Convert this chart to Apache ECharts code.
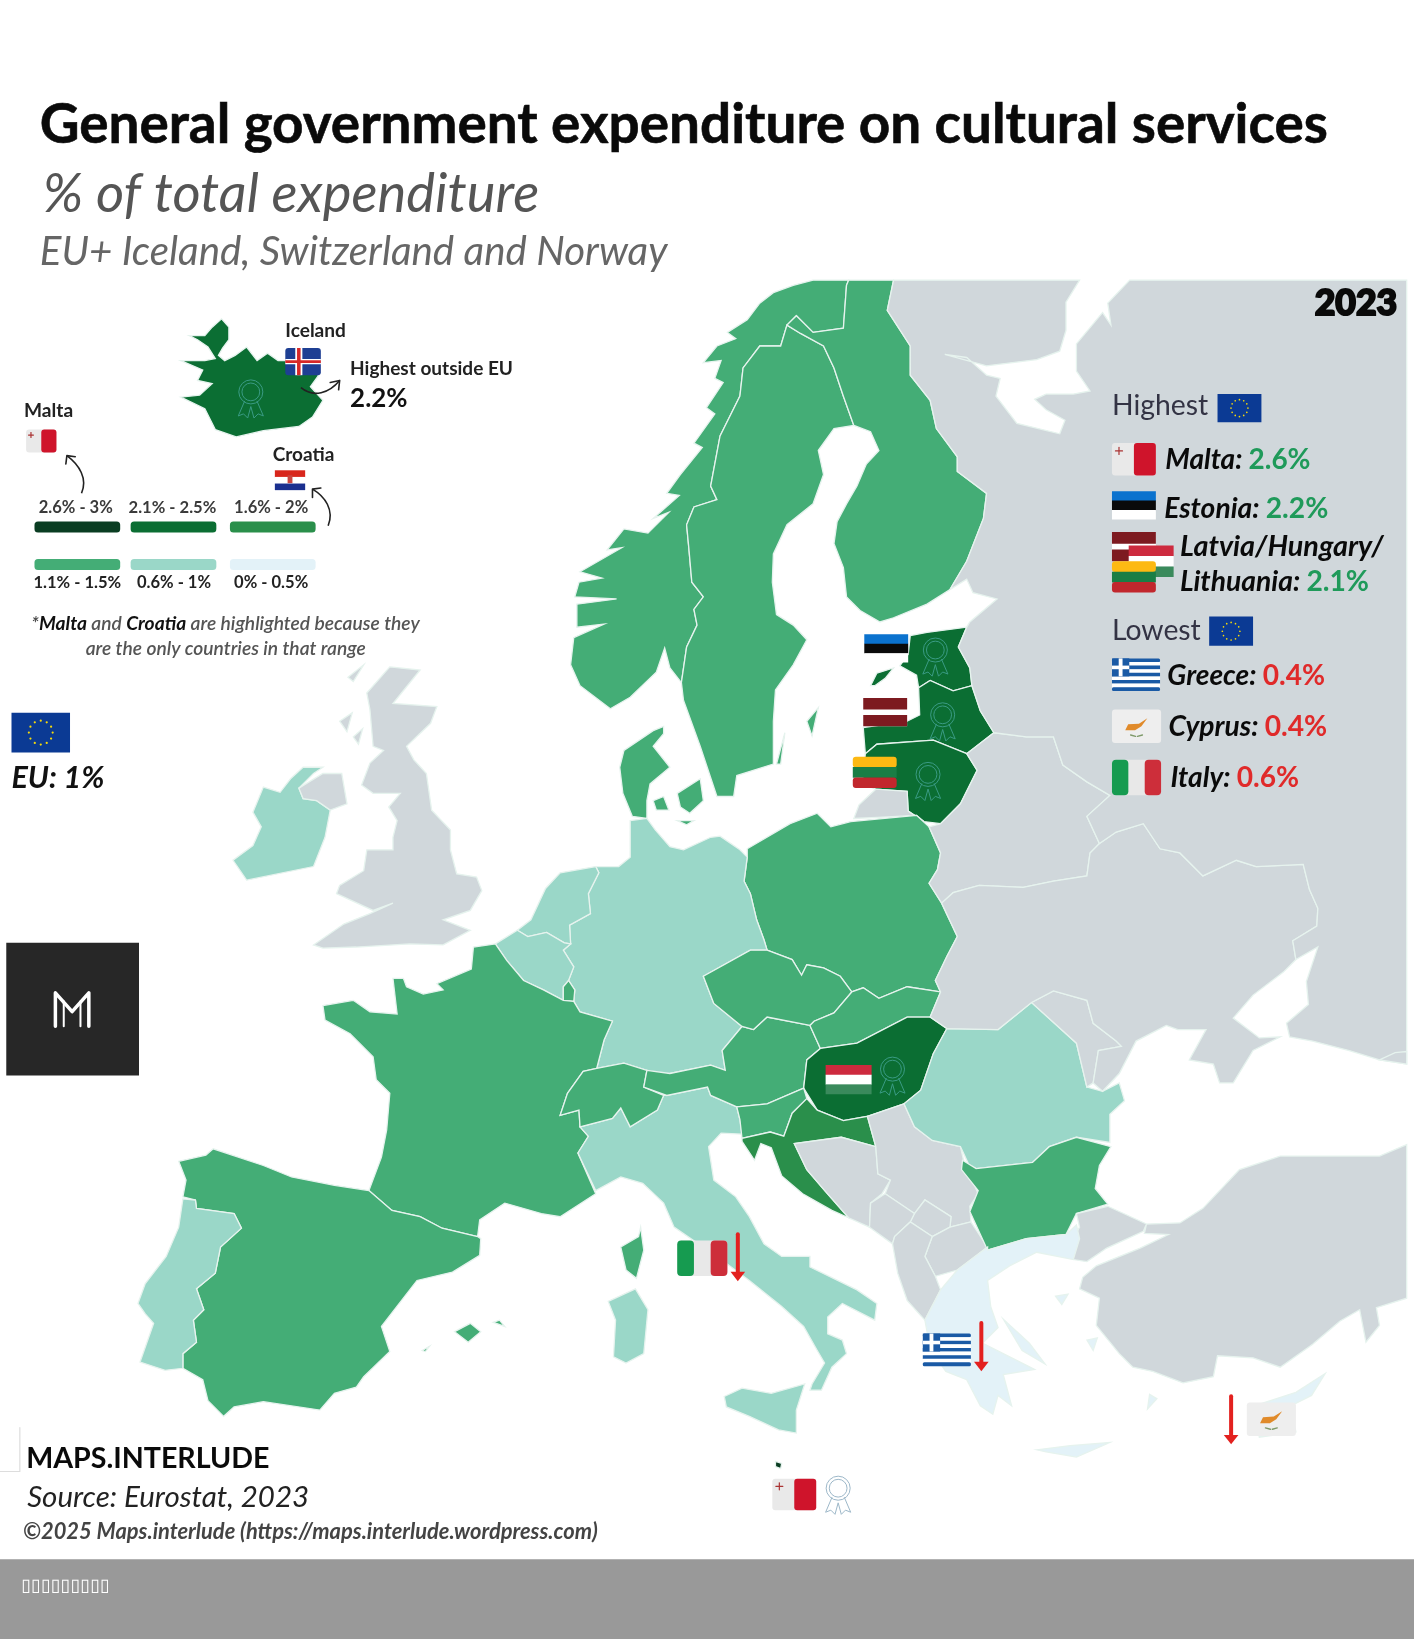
<!DOCTYPE html>
<html><head><meta charset="utf-8">
<style>html,body{margin:0;padding:0;background:#fff}#c{width:1414px;height:1639px}</style>
<script src="https://cdn.jsdelivr.net/npm/echarts@6/dist/echarts.min.js"></script>
</head><body><div id="c"></div>
<script>
// ---------- data ----------
const countries = ['Malta','Iceland','Estonia','Latvia','Lithuania','Hungary','Croatia','France','Spain','Norway','Sweden','Finland','Denmark','Poland','Czechia','Slovakia','Austria','Switzerland','Slovenia','Bulgaria','Luxembourg','Germany','Netherlands','Belgium','Ireland','Portugal','Italy','Romania','Greece','Cyprus'];
const expenditure = [2.6,2.2,2.2,2.1,2.1,2.1,1.8,1.3,1.3,1.3,1.2,1.4,1.2,1.4,1.5,1.4,1.2,1.1,1.5,1.4,1.2,0.9,0.8,0.9,0.7,0.9,0.6,0.9,0.4,0.4];
const classLabels = ['2.6% - 3%','2.1% - 2.5%','1.6% - 2%','1.1% - 1.5%','0.6% - 1%','0% - 0.5%'];
const classMin = [2.55,2.05,1.55,1.05,0.55,0];
const classMax = [3.05,2.55,2.05,1.55,1.05,0.55];
const classColors = ['#0a3d22','#0b6e33','#2a8f4b','#44ad76','#9ad7c8','#e3f2f8'];
const highest = [['Malta:','2.6%'],['Estonia:','2.2%'],['Latvia/Hungary/',''],['Lithuania:','2.1%']];
const lowest = [['Greece:','0.4%'],['Cyprus:','0.4%'],['Italy:','0.6%']];
const euAverage = 'EU: 1%';
const icelandValue = '2.2%';

// ---------- map outlines (traced geometry, reference units) ----------
const outlines = {
Norway:[[[778,268],[759,273],[740,280],[727,290],[715,306],[696,318],[704,324],[686,331],[673,347],[690,345],[684,362],[692,366],[676,390],[684,396],[664,424],[672,428],[651,454],[638,472],[650,474],[625,496],[640,490],[620,510],[597,506],[581,526],[595,524],[555,547],[576,553],[554,557],[550,571],[590,573],[552,578],[552,600],[578,597],[549,610],[546,636],[555,656],[584,678],[603,667],[628,643],[636,620],[641,639],[652,653],[657,619],[667,598],[664,583],[673,571],[662,557],[659,523],[657,502],[664,485],[686,478],[680,465],[689,417],[708,379],[711,352],[727,331],[747,331],[753,311],[762,302],[778,318],[807,314],[810,273],[812,268]]],
Sweden:[[[753,311],[747,331],[727,331],[711,352],[708,379],[689,417],[680,465],[686,478],[664,485],[657,502],[659,523],[662,557],[673,571],[664,583],[667,598],[657,619],[652,653],[654,670],[670,714],[686,762],[702,762],[705,742],[740,731],[740,690],[742,660],[759,636],[772,612],[759,598],[743,588],[739,557],[740,530],[753,502],[778,482],[788,454],[783,431],[798,410],[817,407],[807,379],[798,352],[788,331],[766,319]],[[772,690],[783,677],[777,704]],[[743,731],[751,701],[747,731]]],
Finland:[[[812,268],[855,268],[849,297],[871,331],[871,359],[890,383],[896,410],[916,437],[916,451],[944,472],[941,496],[925,537],[909,564],[887,578],[855,591],[842,595],[823,584],[810,571],[807,543],[798,520],[801,499],[810,482],[820,465],[829,444],[841,431],[833,413],[817,407],[807,379],[798,352],[788,331],[766,319],[753,311],[762,302],[778,318],[807,314],[810,273]]],
Denmark:[[[635,695],[625,699],[597,718],[593,734],[596,759],[605,781],[619,783],[619,766],[622,750],[641,734],[625,714],[635,702]],[[648,759],[670,745],[673,766],[660,778],[651,772]],[[625,766],[635,762],[640,775],[628,775]],[[648,785],[664,785],[657,789]]],
Estonia:[[[925,600],[887,605],[871,608],[869,626],[861,637],[877,646],[879,658],[890,651],[912,661],[930,656],[928,639],[917,619]],[[833,656],[839,644],[855,639],[847,649],[837,656]]],
Latvia:[[[879,658],[880,684],[868,690],[826,696],[828,721],[839,712],[893,708],[925,721],[951,701],[938,680],[930,656],[912,661],[890,651]]],
Lithuania:[[[828,721],[839,712],[893,708],[925,721],[935,737],[919,769],[900,788],[884,786],[869,776],[868,757],[838,755],[825,750]]],
Kaliningrad:[[[817,783],[822,770],[838,755],[868,757],[869,776],[884,786],[877,780],[840,782]]],
Poland:[[[715,812],[756,788],[782,778],[795,791],[814,786],[877,780],[889,791],[900,816],[897,832],[889,845],[901,864],[916,896],[906,915],[895,938],[900,949],[868,944],[841,955],[826,945],[815,949],[804,934],[788,926],[772,923],[767,933],[758,918],[734,909],[731,899],[724,880],[718,855],[712,843],[715,820]]],
Germany:[[[603,785],[619,783],[627,794],[641,810],[654,813],[680,801],[689,800],[708,813],[715,820],[712,843],[718,855],[724,880],[731,899],[734,909],[718,909],[673,934],[683,960],[710,982],[691,1005],[694,1024],[680,1019],[641,1027],[632,1028],[619,1024],[597,1017],[571,1022],[578,995],[586,977],[555,968],[549,958],[550,947],[544,938],[549,925],[539,909],[546,903],[545,885],[565,874],[563,855],[573,835],[570,829],[592,829],[603,820]]],
Netherlands:[[[570,829],[536,835],[522,850],[508,880],[495,890],[505,896],[523,892],[540,902],[546,903],[545,885],[565,874],[563,855],[573,835]]],
Belgium:[[[474,903],[495,890],[505,896],[523,892],[540,902],[546,903],[539,909],[549,925],[544,938],[539,944],[539,957],[520,947],[501,938],[485,919]]],
Luxembourg:[[[544,938],[550,947],[549,958],[539,957],[539,944]]],
France:[[[474,903],[453,906],[451,927],[418,941],[424,947],[405,951],[389,944],[386,936],[376,936],[380,970],[354,968],[338,957],[309,962],[311,976],[335,989],[357,1011],[360,1033],[373,1046],[370,1081],[365,1107],[353,1139],[375,1158],[402,1164],[423,1175],[457,1183],[459,1167],[483,1151],[518,1161],[536,1164],[570,1142],[553,1103],[563,1087],[555,1078],[554,1062],[536,1067],[543,1046],[558,1025],[571,1022],[578,995],[586,977],[555,968],[549,958],[539,957],[520,947],[501,938],[485,919]],[[594,1193],[611,1183],[613,1174],[616,1196],[609,1223],[599,1215]]],
Spain:[[[171,1111],[197,1105],[204,1099],[252,1115],[279,1126],[320,1134],[353,1139],[375,1158],[402,1164],[423,1175],[457,1183],[460,1185],[459,1201],[433,1217],[399,1225],[365,1269],[373,1293],[348,1317],[341,1327],[320,1333],[306,1349],[252,1341],[224,1346],[214,1355],[199,1340],[194,1320],[175,1309],[175,1295],[188,1284],[185,1263],[195,1253],[188,1233],[206,1218],[211,1193],[231,1175],[224,1161],[188,1156],[187,1148],[175,1145],[178,1129]],[[435,1274],[450,1266],[460,1274],[448,1284]],[[472,1265],[483,1269],[478,1263]],[[404,1292],[411,1288],[407,1293]]],
Portugal:[[[175,1147],[187,1148],[188,1156],[224,1161],[231,1175],[211,1193],[206,1218],[188,1233],[195,1253],[185,1263],[188,1284],[175,1295],[175,1309],[158,1311],[134,1303],[147,1266],[139,1257],[132,1247],[139,1228],[159,1202],[171,1174]]],
Italy:[[[555,1078],[586,1070],[594,1060],[603,1078],[629,1062],[635,1048],[638,1048],[677,1040],[680,1048],[705,1059],[708,1071],[710,1085],[690,1084],[678,1097],[683,1129],[704,1145],[717,1164],[731,1190],[748,1202],[775,1202],[775,1212],[820,1234],[839,1247],[837,1263],[806,1247],[792,1260],[792,1276],[806,1282],[810,1295],[796,1308],[786,1330],[775,1330],[777,1324],[789,1304],[782,1292],[769,1269],[748,1250],[717,1225],[690,1205],[645,1174],[635,1151],[615,1132],[594,1126],[570,1139],[553,1103],[563,1087]],[[582,1245],[608,1233],[620,1253],[616,1295],[599,1304],[587,1298],[589,1263]],[[693,1336],[710,1328],[738,1333],[770,1324],[762,1349],[762,1371],[745,1368],[717,1355],[695,1346]]],
Switzerland:[[[558,1025],[571,1022],[597,1017],[619,1024],[616,1040],[635,1048],[629,1062],[603,1078],[594,1060],[586,1070],[555,1078],[554,1062],[536,1067],[543,1046]]],
Austria:[[[619,1024],[641,1027],[680,1019],[694,1024],[691,1005],[710,982],[721,985],[734,973],[775,981],[785,1003],[772,1014],[769,1041],[734,1056],[705,1059],[680,1048],[677,1040],[638,1048],[616,1040]]],
Czechia:[[[673,934],[718,909],[734,909],[758,918],[767,933],[772,923],[788,926],[804,934],[815,949],[798,969],[779,977],[775,981],[734,973],[721,985],[710,982],[683,960]]],
Slovakia:[[[815,949],[826,945],[841,955],[868,944],[900,949],[890,973],[868,973],[820,998],[785,1003],[775,981],[779,977],[798,969]]],
Hungary:[[[785,1003],[820,998],[868,973],[890,973],[906,984],[893,1008],[881,1043],[865,1056],[830,1068],[807,1072],[782,1062],[769,1041],[772,1014]]],
Slovenia:[[[705,1059],[734,1056],[769,1041],[772,1051],[758,1065],[750,1087],[737,1083],[710,1089],[708,1071]]],
Croatia:[[[772,1051],[782,1062],[807,1072],[830,1068],[838,1097],[805,1088],[760,1094],[772,1119],[790,1140],[812,1165],[796,1158],[768,1142],[748,1125],[738,1098],[728,1094],[722,1110],[710,1092],[710,1089],[737,1083],[750,1087],[758,1065]]],
Bosnia:[[[760,1094],[805,1088],[838,1097],[840,1123],[852,1129],[844,1142],[833,1151],[832,1174],[812,1165],[790,1140],[772,1119]]],
Serbia:[[[830,1068],[865,1056],[875,1078],[892,1091],[919,1097],[922,1110],[936,1142],[928,1154],[929,1169],[909,1174],[910,1164],[885,1148],[875,1161],[847,1142],[852,1129],[840,1123],[838,1097]]],
Kosovo:[[[875,1161],[885,1148],[910,1164],[909,1174],[892,1183],[871,1169]]],
Montenegro:[[[833,1151],[847,1142],[875,1161],[871,1169],[856,1183],[854,1190],[832,1174]]],
Macedonia:[[[892,1183],[909,1174],[929,1169],[945,1193],[916,1215],[895,1221],[885,1202]]],
Albania:[[[856,1183],[871,1169],[892,1183],[885,1202],[895,1221],[900,1234],[885,1263],[868,1244],[859,1218],[854,1190]]],
Romania:[[[906,984],[955,985],[987,959],[1030,998],[1040,1040],[1055,1044],[1071,1036],[1076,1053],[1062,1066],[1062,1093],[1030,1088],[1004,1097],[988,1112],[934,1118],[927,1114],[919,1097],[892,1091],[875,1078],[865,1056],[881,1043],[893,1008]]],
Bulgaria:[[[921,1110],[934,1118],[988,1112],[1004,1097],[1030,1088],[1063,1097],[1052,1115],[1048,1137],[1060,1152],[1030,1161],[1020,1181],[982,1185],[945,1196],[928,1159],[936,1139],[920,1119]]],
Moldova:[[[987,959],[1008,948],[1040,957],[1046,979],[1068,996],[1073,1001],[1051,1005],[1046,1036],[1040,1040],[1030,998]]],
Belarus:[[[925,721],[951,701],[982,705],[1008,705],[1017,732],[1040,748],[1062,761],[1040,781],[1052,807],[1043,816],[1040,838],[1008,843],[979,849],[937,847],[912,854],[901,864],[889,845],[897,832],[900,816],[889,791],[900,788],[919,769],[935,737]]],
Ukraine:[[[901,864],[916,896],[906,915],[895,938],[900,949],[890,973],[906,984],[955,985],[987,959],[1008,948],[1040,957],[1046,979],[1068,996],[1073,1001],[1051,1005],[1046,1036],[1055,1044],[1071,1027],[1087,996],[1116,981],[1127,985],[1154,985],[1138,1014],[1161,1018],[1167,1036],[1180,1036],[1199,1005],[1225,992],[1205,993],[1180,974],[1199,952],[1228,930],[1240,918],[1237,900],[1260,886],[1261,869],[1253,851],[1247,827],[1202,829],[1183,823],[1151,838],[1129,816],[1110,812],[1094,788],[1068,796],[1052,807],[1043,816],[1040,838],[1008,843],[979,849],[937,847],[912,854]]],
Russia:[[[1081,268],[1346,268],[1346,1018],[1320,1014],[1291,1005],[1256,996],[1234,992],[1231,979],[1252,961],[1250,939],[1261,906],[1240,918],[1237,900],[1260,886],[1261,869],[1253,851],[1247,827],[1202,829],[1183,823],[1151,838],[1129,816],[1110,812],[1094,788],[1068,796],[1052,807],[1040,781],[1062,761],[1040,748],[1017,732],[1008,705],[982,705],[951,701],[938,680],[930,656],[928,639],[917,619],[925,600],[928,595],[954,573],[931,567],[925,554],[909,564],[925,537],[941,496],[944,472],[916,451],[916,437],[896,410],[890,383],[871,359],[871,331],[849,297],[855,268],[1033,268],[1020,289],[1020,316],[1014,336],[992,344],[944,350],[904,339],[925,342],[944,359],[957,362],[953,379],[973,405],[1014,415],[1019,402],[1001,392],[990,382],[1001,377],[1027,377],[1043,374],[1030,355],[1030,329],[1055,299],[1063,311],[1060,290]]],
Georgia:[[[1320,1014],[1335,1007],[1346,1006],[1346,1018]]],
Turkey:[[[1346,1095],[1320,1106],[1225,1106],[1186,1119],[1151,1156],[1129,1170],[1097,1171],[1095,1180],[1118,1181],[1091,1194],[1049,1211],[1036,1222],[1033,1233],[1052,1242],[1049,1268],[1071,1295],[1084,1308],[1103,1312],[1132,1323],[1161,1317],[1165,1297],[1199,1299],[1225,1308],[1256,1286],[1282,1264],[1301,1253],[1307,1284],[1320,1268],[1317,1251],[1346,1242]],[[1060,1154],[1097,1171],[1094,1178],[1059,1194],[1040,1207],[1027,1205],[1027,1185],[1033,1174],[1030,1161]]],
Greece:[[[945,1196],[982,1185],[1020,1181],[1030,1172],[1033,1185],[1027,1205],[992,1198],[966,1211],[945,1225],[948,1250],[955,1270],[940,1285],[970,1300],[990,1310],[960,1315],[968,1345],[955,1335],[950,1353],[938,1345],[925,1320],[905,1312],[890,1290],[885,1263],[900,1234],[916,1215],[945,1193]],[[992,1387],[1024,1383],[1062,1380],[1030,1394],[1001,1389]],[[960,1262],[985,1285],[1000,1305],[978,1292]],[[1100,1334],[1107,1338],[1098,1348]],[[1010,1240],[1022,1238],[1016,1248]],[[1040,1282],[1050,1280],[1046,1292]]],
Cyprus:[[[1200,1345],[1240,1332],[1268,1314],[1255,1335],[1235,1345],[1240,1370],[1205,1375]]],
Ireland:[[[278,745],[290,734],[309,734],[300,740],[286,754],[290,764],[303,766],[316,775],[311,801],[300,829],[236,842],[223,823],[242,809],[250,791],[242,777],[252,753],[268,758]]],
UnitedKingdom:[[[373,638],[402,641],[389,657],[376,673],[418,676],[412,692],[389,714],[396,727],[408,740],[413,775],[431,794],[431,813],[437,836],[456,839],[461,852],[450,871],[424,880],[450,890],[424,904],[392,903],[341,906],[309,907],[300,904],[329,884],[354,874],[376,864],[357,871],[322,855],[325,847],[348,833],[351,813],[376,813],[376,801],[380,785],[372,772],[383,759],[357,759],[346,751],[354,730],[367,718],[357,714],[354,679],[351,663]],[[286,754],[309,740],[327,740],[332,769],[316,775],[303,766],[290,764]],[[333,648],[348,636],[338,652]],[[325,690],[337,682],[332,700]],[[338,705],[347,697],[343,712]]],
Iceland:[[[212,305],[219,313],[219,325],[213,333],[209,340],[215,345],[225,340],[236,332],[246,345],[256,338],[266,345],[276,345],[305,359],[297,370],[309,383],[299,399],[286,408],[252,412],[226,418],[206,411],[196,391],[173,380],[191,378],[203,367],[189,364],[194,354],[173,345],[196,345],[206,343],[199,332],[189,325],[181,321],[196,321],[203,313]]],
Malta:[[[742,1398],[748,1400],[747,1405],[742,1403]]]
};

// ---------- build ----------
const S = 1414/1353, DY = 1.5;
const features = Object.keys(outlines).map(n=>({type:'Feature',properties:{name:n},geometry:{type:'MultiPolygon',coordinates:outlines[n].map(r=>[r])}}));
echarts.registerMap('europe',{type:'FeatureCollection',features});
const mc = document.createElement('canvas').getContext('2d');
const el = [];
function txt(x,y,w,text,o){
  o=o||{};
  const st=o.style||'normal',wt=o.weight||'400',fam=o.family||'Lato';
  mc.font=`${st} ${wt} 100px ${fam}`;
  const size=o.size||100*w*S/mc.measureText(text).width;
  const font=`${st} ${wt} ${size}px ${fam}`;
  const style={text,font,fill:o.fill||'#111',textAlign:o.align||'left',textVerticalAlign:'middle',align:o.align||'left',verticalAlign:'middle'};
  if(o.stroke){style.stroke=o.stroke;style.lineWidth=o.lw||1;}
  el.push({type:'text',x:x*S,y:(y+DY)*S,z:20,style});
  return size;
}
function runs(x,y,w,parts,o){ // several coloured runs on one line, total width w
  const st=o.style||'normal',wt=o.weight||'700';
  const width=sz=>parts.reduce((a,p)=>{mc.font=`${p[2]||st} ${p[3]||wt} ${sz}px Lato`;return a+mc.measureText(p[0]).width;},0);
  const size=100*w*S/width(100);
  let cx=x*S;
  parts.forEach(p=>{
    const f=`${p[2]||st} ${p[3]||wt} ${size}px Lato`;
    el.push({type:'text',x:cx,y:(y+DY)*S,z:20,style:{text:p[0],font:f,fill:p[1],textAlign:'left',textVerticalAlign:'middle',align:'left',verticalAlign:'middle'}});
    mc.font=f; cx+=mc.measureText(p[0]).width;
  });
}
function rect(x,y,w,h,fill,r,z){el.push({type:'rect',z:z||15,shape:{x:x*S,y:y*S,width:w*S,height:h*S,r:r||0},style:{fill}});}
function circ(x,y,r,fill,stroke,lw,z){el.push({type:'circle',z:z||16,shape:{cx:x*S,cy:y*S,r:r*S},style:{fill:fill||'none',stroke:stroke||'none',lineWidth:lw||1}});}
function poly(pts,fill,z){el.push({type:'polygon',z:z||16,shape:{points:pts.map(p=>[p[0]*S,p[1]*S])},style:{fill}});}
function pline(pts,stroke,lw,z){el.push({type:'polyline',z:z||16,shape:{points:pts.map(p=>[p[0]*S,p[1]*S])},style:{fill:'none',stroke,lineWidth:lw,lineCap:'round',lineJoin:'round'}});}
function stripes(x,y,w,h,cols,r){
  const n=cols.length,hh=h/n;
  cols.forEach((c,i)=>rect(x,y+i*hh,w,hh+(i<n-1?.3:0),c,(i==0||i==n-1)?Math.min(r||0,hh/2):0,15));
}
const flags={
 eu(x,y,w,h){rect(x,y,w,h,'#0b3a94');const R=h*.3;for(let i=0;i<12;i++){const a=i*Math.PI/6;circ(x+w/2+R*Math.cos(a),y+h/2+R*Math.sin(a),Math.max(.8,h*.028),'#f5d90a');}},
 mt(x,y,w,h){rect(x,y,w,h,'#e9e9e9',3);rect(x+w/2,y,w/2,h,'#cf142b',3);const d=w*.08,cx=x+w*.16,cy=y+h*.24;pline([[cx-d,cy],[cx+d,cy]],'#a33',1.2);pline([[cx,cy-d],[cx,cy+d]],'#a33',1.2);},
 is(x,y,w,h){rect(x,y,w,h,'#1e3f93',3);rect(x+w*.28,y,w*.2,h,'#fff');rect(x,y+h*.4,w,h*.2,'#fff');rect(x+w*.33,y,w*.1,h,'#d72828');rect(x,y+h*.45,w,h*.1,'#d72828');},
 hr(x,y,w,h){stripes(x,y,w,h,['#d8261c','#ffffff','#1a2f8f'],0);rect(x+w*.42,y+h*.25,w*.16,h*.4,'#c9453f');},
 ee(x,y,w,h){stripes(x,y,w,h,['#0b72ce','#0a0a0a','#ffffff'],0);},
 lv(x,y,w,h){rect(x,y,w,h,'#ffffff');rect(x,y,w,h*.4,'#7d1a20');rect(x,y+h*.6,w,h*.4,'#7d1a20');},
 hu(x,y,w,h){stripes(x,y,w,h,['#cd2a3e','#ffffff','#3a8a5c'],0);},
 lt(x,y,w,h){stripes(x,y,w,h,['#fdb913','#1a7e45','#c1272d'],3);},
 gr(x,y,w,h){const c=['#1a5aa5','#fff'];for(let i=0;i<9;i++)rect(x,y+i*h/9,w,h/9+.2,c[i%2],(i==0||i==8)?1.5:0);rect(x,y,w*.36,h*5/9,'#1a5aa5');rect(x+w*.14,y,w*.08,h*5/9,'#fff');rect(x,y+h*2/9,w*.36,h/9,'#fff');},
 cy(x,y,w,h){rect(x,y,w,h,'#eeeeee',3);poly([[x+w*.27,y+h*.62],[x+w*.33,y+h*.44],[x+w*.55,y+h*.42],[x+w*.72,y+h*.26],[x+w*.6,y+h*.5],[x+w*.47,y+h*.62]],'#e08a2a');pline([[x+w*.38,y+h*.76],[x+w*.48,y+h*.8]],'#7f9a6a',1.4);pline([[x+w*.52,y+h*.8],[x+w*.62,y+h*.76]],'#7f9a6a',1.4);},
 it(x,y,w,h){rect(x,y,w,h,'#e8e8e8',4);rect(x,y,w/3,h,'#169b50',4);rect(x+w*2/3,y,w/3,h,'#cd2e3a',4);}
};
function ribbon(cx,cy,col){
  circ(cx,cy,11.5,null,col,1);circ(cx,cy,8.5,null,col,1);
  pline([[cx-6,cy+9],[cx-12,cy+23],[cx-7,cy+21],[cx-3,cy+25],[cx,cy+14],[cx+3,cy+25],[cx+7,cy+21],[cx+12,cy+23],[cx+6,cy+9]],col,1);
}
function downArrow(x,y0,y1){pline([[x,y0],[x,y1-8]],'#e3211f',4,17);poly([[x-7,y1-9],[x+7,y1-9],[x,y1]],'#e3211f',17);}
function curveArrow(a,c1,c2,b,head){
  el.push({type:'bezierCurve',z:17,shape:{x1:a[0]*S,y1:a[1]*S,x2:b[0]*S,y2:b[1]*S,cpx1:c1[0]*S,cpy1:c1[1]*S,cpx2:c2[0]*S,cpy2:c2[1]*S},style:{fill:'none',stroke:'#222',lineWidth:1.6}});
  pline(head,'#222',1.6,17);
}
// title block
txt(38,118,1233,'General government expenditure on cultural services',{weight:'700',fill:'#0a0a0a',stroke:'#0a0a0a',lw:.6});
txt(41,185,475,'% of total expenditure',{style:'italic',fill:'#555'});
txt(38,240,601,'EU+ Iceland, Switzerland and Norway',{style:'italic',fill:'#666'});
txt(1258,288.5,79,'2023',{weight:'900',fill:'#0a0a0a',stroke:'#0a0a0a',lw:2});
// Iceland callout
txt(273,315,58,'Iceland',{weight:'700',fill:'#222'});
flags.is(273,333,34,26);
txt(335,351,156,'Highest outside EU',{weight:'700',fill:'#222'});
txt(335,380,55,icelandValue,{weight:'700',fill:'#111'});
curveArrow([288,371],[300,381],[315,376],[325,364],[[316,366],[325,364],[324,373]]);
ribbon(240,375,'#3a9b84');
// Malta and Croatia callouts
txt(23,392,47,'Malta',{weight:'700',fill:'#222'});
flags.mt(25,411,29,22);
curveArrow([78,472],[84,458],[76,445],[64,436],[[63,444],[64,436],[72,437]]);
txt(261,434,59,'Croatia',{weight:'700',fill:'#222'});
flags.hr(263,450,29,19);
curveArrow([314,503],[320,488],[311,475],[299,468],[[299,476],[299,468],[307,467]]);
// legend
const barX=[33,125,220,33,125,220];
const labW=[71,84,71,84,71,71];
const labX=[37,123,224,32,131,224];
classLabels.forEach((l,i)=>{
  const row=i<3?0:1;
  rect(barX[i],row?535:499,82,10.5,classColors[i],3.5);
  txt(labX[i],row?556:484,labW[i],l,{weight:'700',fill:row?'#222':'#3a3a3a'});
});
runs(30,595,372,[['*','#444'],['Malta','#111','italic','700'],[' and ','#555','italic','600'],['Croatia','#111','italic','700'],[' are highlighted because they','#555','italic','600']],{style:'italic',weight:'600'});
txt(82,619,268,'are the only countries in that range',{style:'italic',weight:'600',fill:'#555'});
flags.eu(11,682,56,38);
txt(11,743,89,euAverage,{style:'italic',weight:'700',fill:'#111'});
// logo
rect(6,902,127,127,'#272727');
pline([[53,982],[53,950],[69,968],[85,950],[85,982]],'#fff',3.5);
pline([[61,982],[61,958]],'#fff',2);pline([[77,982],[77,958]],'#fff',2);
// right panel
const GREEN='#1f9a5a',RED='#e02a2a';
txt(1064,387,92,'Highest',{fill:'#333344'});
flags.eu(1165,377,42,27);
flags.mt(1064,424,42,31);
runs(1115,439,139,[[highest[0][0]+' ','#0a0a0a'],[highest[0][1],GREEN,'normal','700']],{style:'italic'});
flags.ee(1064,470,42,27);
runs(1114,485,157,[[highest[1][0]+' ','#0a0a0a'],[highest[1][1],GREEN,'normal','700']],{style:'italic'});
flags.lv(1064,509,42,28);flags.hu(1080,522,43,30);flags.lt(1064,537,42,30);
txt(1129,522,195,highest[2][0],{style:'italic',weight:'700',fill:'#0a0a0a'});
runs(1129,555,181,[[highest[3][0]+' ','#0a0a0a'],[highest[3][1],GREEN,'normal','700']],{style:'italic'});
txt(1064,602,85,'Lowest',{fill:'#333344'});
flags.eu(1157,590,42,28);
flags.gr(1064,630,46,31);
runs(1117,645,151,[[lowest[0][0]+' ','#0a0a0a'],[lowest[0][1],RED,'normal','700']],{style:'italic'});
flags.cy(1064,679,47,32);
runs(1118,694,152,[[lowest[1][0]+' ','#0a0a0a'],[lowest[1][1],RED,'normal','700']],{style:'italic'});
flags.it(1064,727,47,34);
runs(1120,743,123,[[lowest[2][0]+' ','#0a0a0a'],[lowest[2][1],RED,'normal','700']],{style:'italic'});
// flags and marks on the map
flags.ee(827,607,42,27);ribbon(895,622,'#3a9b84');
flags.lv(826,668,42,27);ribbon(902,684,'#3a9b84');
flags.lt(816,724,42,30);ribbon(888,741,'#3a9b84');
flags.hu(790,1019,44,28);ribbon(854,1023,'#3a9b84');
flags.it(648,1187,48,34);downArrow(706,1181,1226);
flags.gr(883,1276,46,31);downArrow(939,1266,1312);
flags.cy(1193,1342,47,32);downArrow(1178,1336,1382);
flags.mt(739,1415,42,30);ribbon(802,1424,'#9db8c9');
// footer
txt(25,1394,233,'MAPS.INTERLUDE',{weight:'700',fill:'#0a0a0a'});
txt(26,1431,270,'Source: Eurostat, 2023',{style:'italic',fill:'#222'});
txt(22,1464,550,'©2025 Maps.interlude (https://maps.interlude.wordpress.com)',{style:'italic',weight:'700',fill:'#444'});
pline([[0,1408],[19,1408],[19,1366]],'#ddd',1.2,10);
rect(0,1492,1353,78,'#999999',0,12);
txt(20,1516.5,85,'▯▯▯▯▯▯▯▯▯',{family:'DejaVu Sans',fill:'#fff'});

const chart=echarts.init(document.getElementById('c'),null,{renderer:'canvas'});
chart.setOption({
  animation:false,backgroundColor:'#fff',
  visualMap:{type:'piecewise',show:false,seriesIndex:0,dimension:0,
    pieces:classColors.map((c,i)=>({gte:classMin[i],lt:classMax[i],color:c}))},
  series:[{type:'map',map:'europe',silent:true,roam:false,left:0,top:0,width:1414,height:1639,
    projection:{project:p=>p,unproject:p=>p},
    boundingCoords:[[0,0],[1353,1568]],
    label:{show:false},emphasis:{disabled:true},select:{disabled:true},
    itemStyle:{areaColor:'#d0d7db',borderColor:'#e6f3ee',borderWidth:1.3},
    data:countries.map((n,i)=>({name:n,value:expenditure[i]}))}],
  graphic:{elements:el}
});
</script></body></html>
